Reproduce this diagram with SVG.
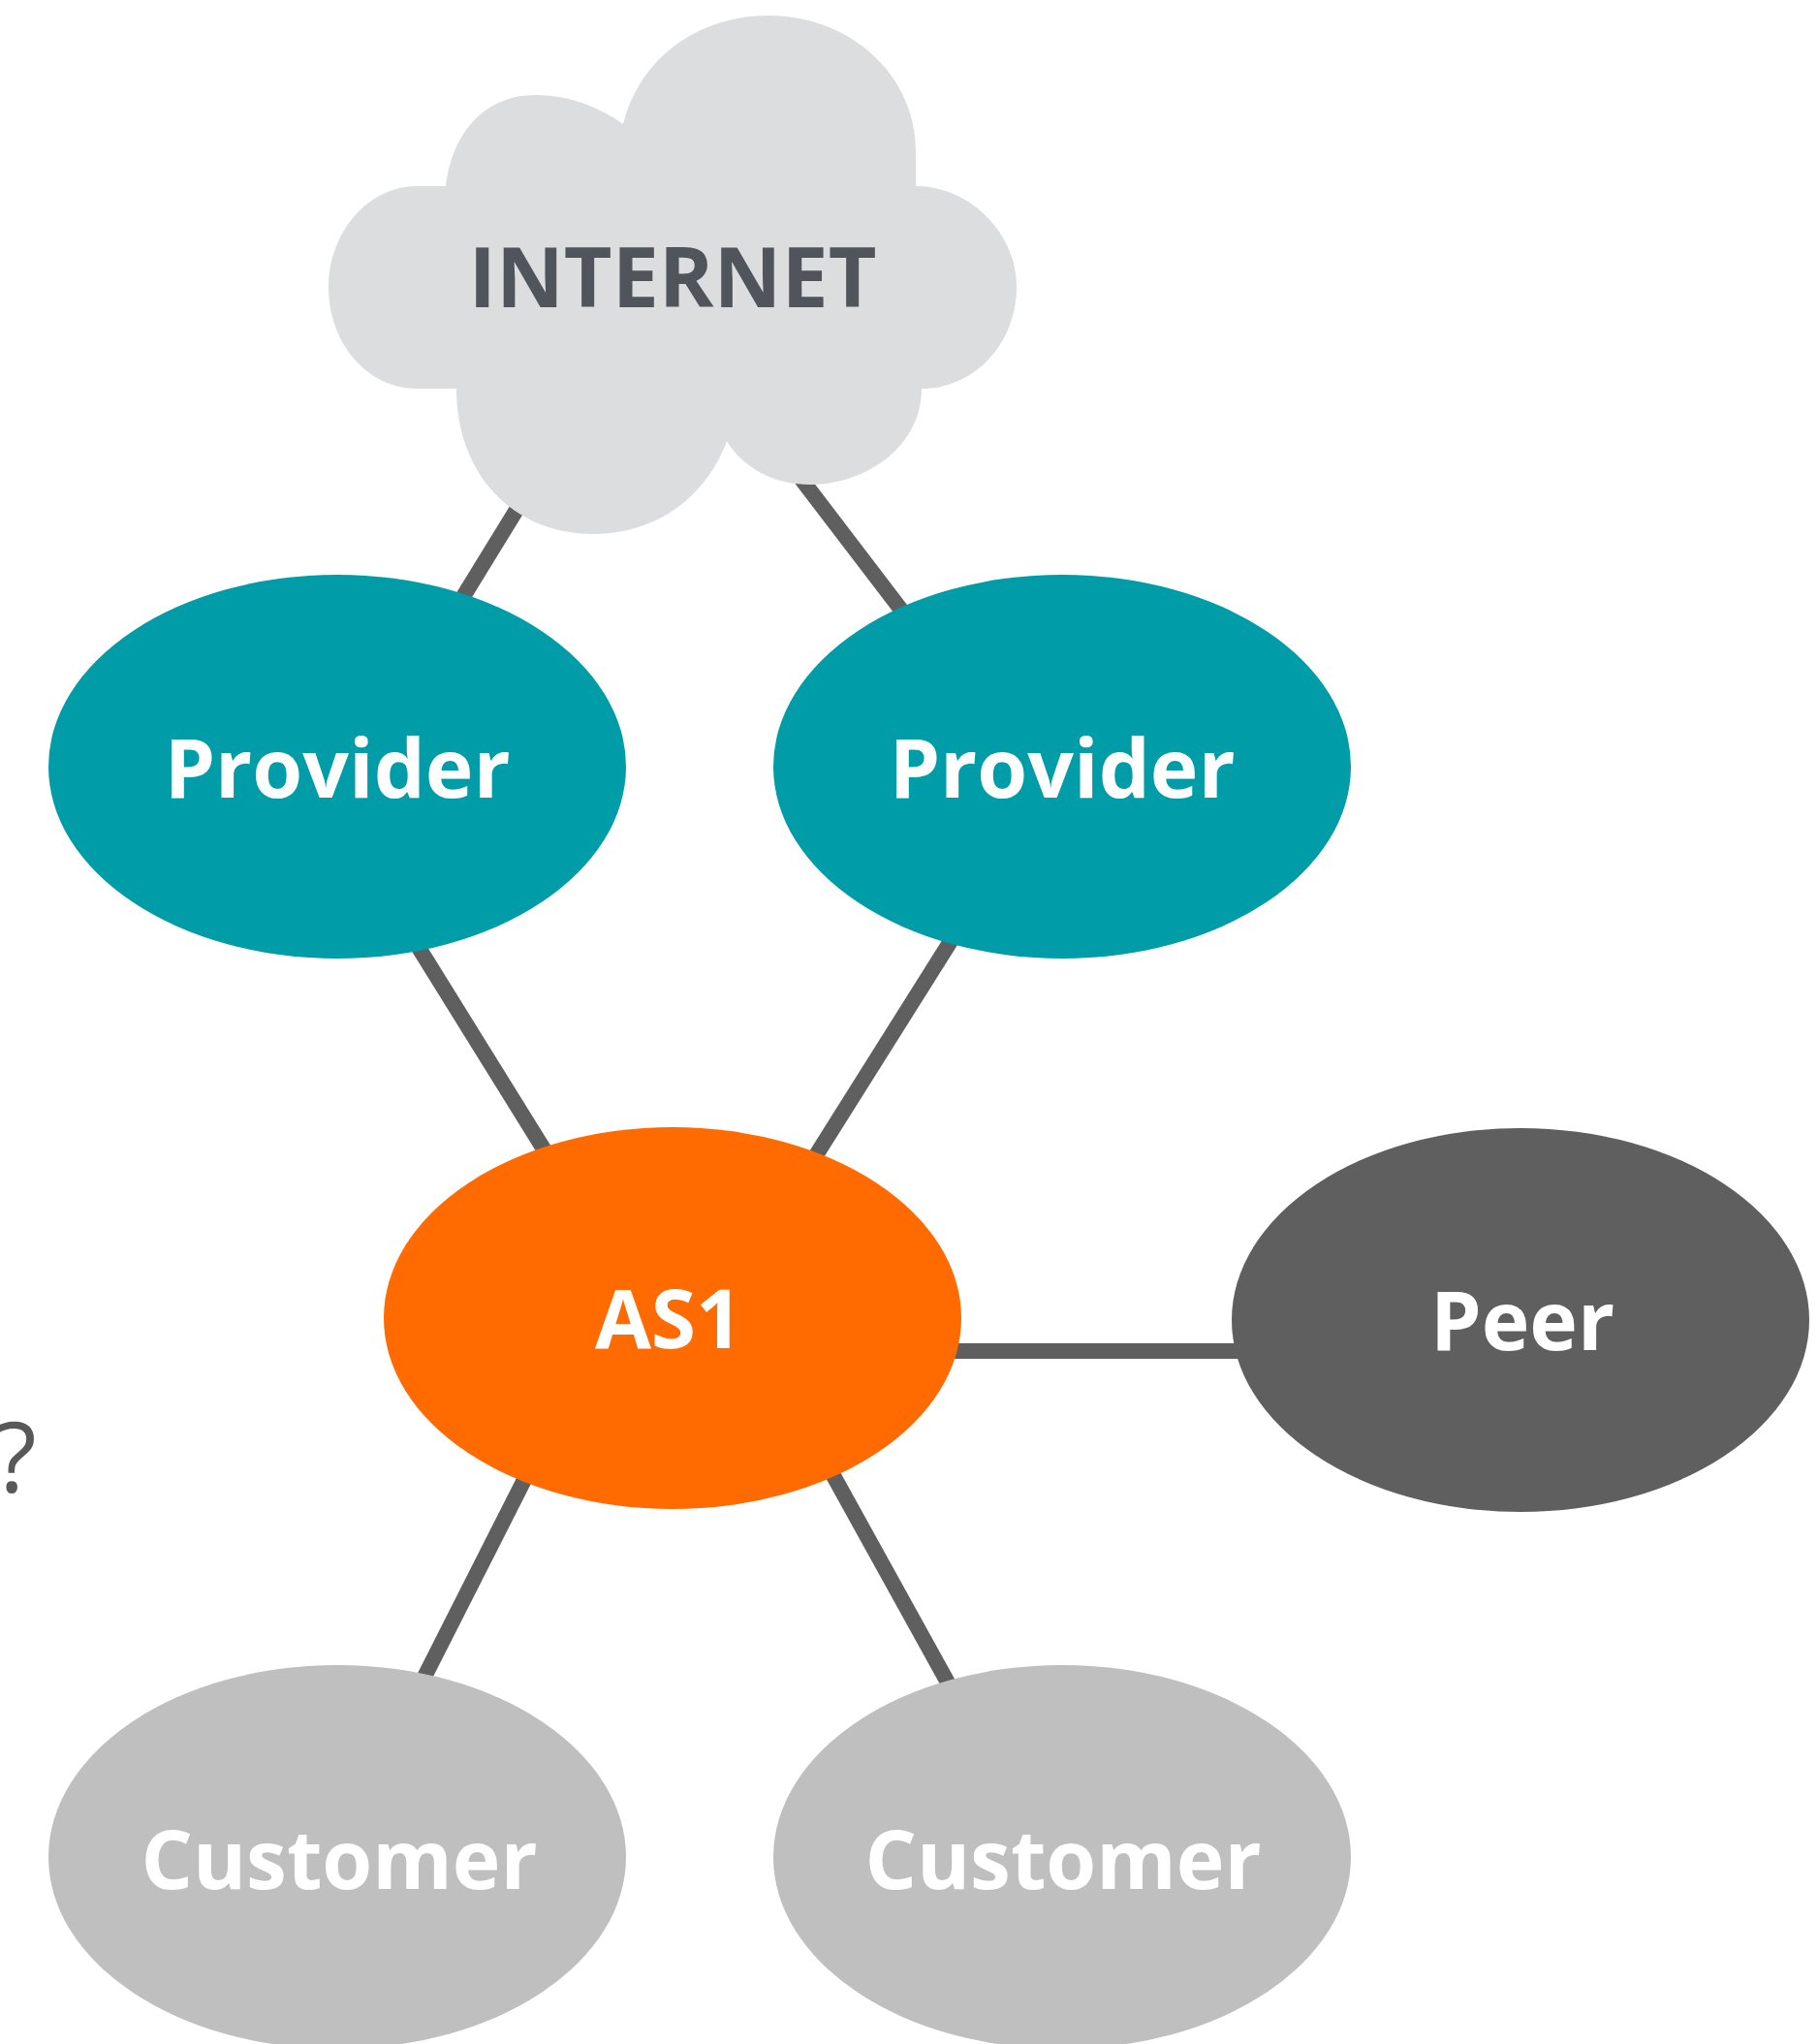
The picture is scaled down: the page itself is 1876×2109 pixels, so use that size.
<svg xmlns="http://www.w3.org/2000/svg" width="1876" height="2109" viewBox="0 0 1876 2109">
<style>
.link{stroke:#5f5f5f;stroke-width:16;fill:none}
.lbl{font-family:"Open Sans","Liberation Sans",sans-serif;font-weight:700;font-size:84px;fill:#ffffff;text-anchor:middle}
.provider{fill:#009da9}
.customer{fill:#bfbfbf}
</style>
<rect width="1876" height="2109" fill="#ffffff"/>
<g id="connectors">
<line class="link" x1="549" y1="500" x2="463" y2="640"/>
<line class="link" x1="816" y1="480" x2="942" y2="645"/>
<line class="link" x1="421" y1="960" x2="570" y2="1200"/>
<line class="link" x1="988" y1="960" x2="837" y2="1200"/>
<line class="link" x1="960" y1="1394" x2="1290" y2="1394"/>
<line class="link" x1="547" y1="1515" x2="433" y2="1740"/>
<line class="link" x1="853" y1="1510" x2="983" y2="1745"/>
</g>
<g id="internet">
<path fill="#dcdddf" d="M 460 192 C 468 128 508 98 552 98 C 590 98 620 112 643 128 C 660 60 720 16 793 16 C 880 16 945 80 945 155 L 945 192 C 1000 192 1049 240 1049 296 C 1049 355 1005 401 951 401 C 951 460 895 500 835 500 C 795 500 765 480 750 455 C 730 510 680 551 612 551 C 530 551 471 490 471 401 L 430 401 C 380 401 339 355 339 296 C 339 240 380 192 430 192 Z"/>
<text x="694" y="317" font-family="'Open Sans','Liberation Sans',sans-serif" font-weight="700" font-size="86" fill="#50555c" text-anchor="middle">INTERNET</text>
</g>
<g id="provider-left">
<ellipse class="provider" cx="348" cy="791" rx="298" ry="198"/>
<text class="lbl" x="348" y="823">Provider</text>
</g>
<g id="provider-right">
<ellipse class="provider" cx="1096" cy="791" rx="298" ry="198"/>
<text class="lbl" x="1096" y="823">Provider</text>
</g>
<g id="as1">
<ellipse fill="#ff6b00" cx="694" cy="1360" rx="298" ry="197"/>
<text class="lbl" x="690" y="1391">AS1</text>
</g>
<g id="peer">
<ellipse fill="#5f5f5f" cx="1569" cy="1362" rx="298" ry="198"/>
<text class="lbl" x="1571" y="1393">Peer</text>
</g>
<g id="customer-left">
<ellipse class="customer" cx="348" cy="1916" rx="298" ry="198"/>
<text class="lbl" x="350" y="1949">Customer</text>
</g>
<g id="customer-right">
<ellipse class="customer" cx="1096" cy="1916" rx="298" ry="198"/>
<text class="lbl" x="1097" y="1949">Customer</text>
</g>
<text x="16" y="1540" font-family="'Open Sans','Liberation Sans',sans-serif" font-size="100" fill="#585858" text-anchor="middle">?</text>
</svg>
